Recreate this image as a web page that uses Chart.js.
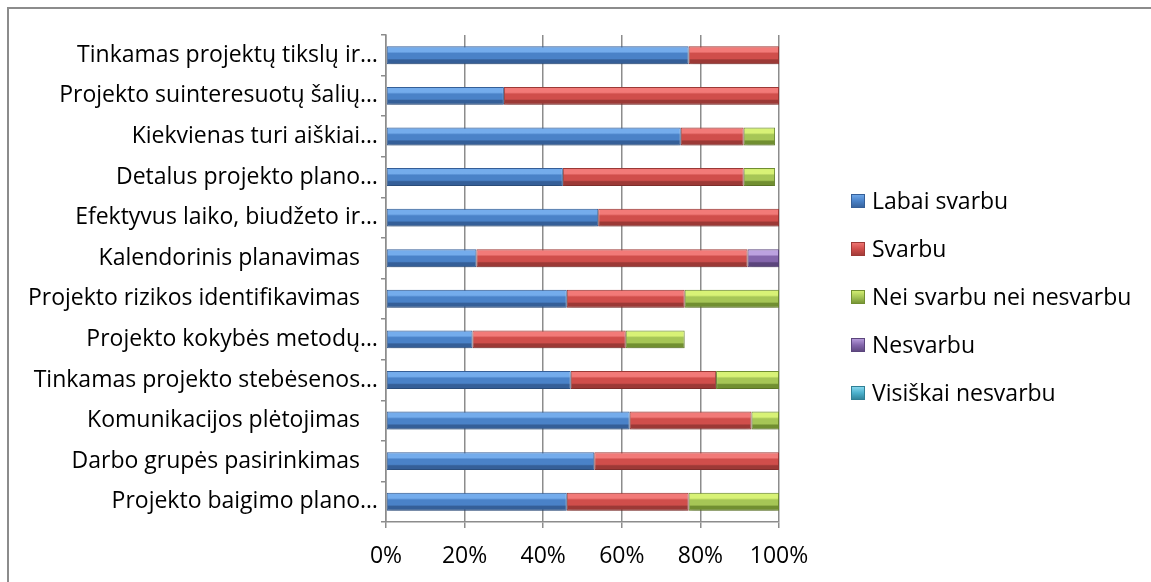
<!DOCTYPE html>
<html>
<head>
<meta charset="utf-8">
<title>Projekto sėkmės veiksniai</title>
<script src="https://cdn.jsdelivr.net/npm/chart.js@4"></script>
<style>
  html, body { margin: 0; padding: 0; background: #fff; overflow: hidden; }
  #frame { position: absolute; left: 7px; top: 7px; width: 1200px; height: 700px;
           border-left: 2px solid #8c8c8c; border-top: 2px solid #8c8c8c; }
  #wrap { position: absolute; left: 0; top: 0; width: 1151px; height: 582px; }
</style>
</head>
<body>
<div id="frame"></div>
<div id="wrap"><canvas id="my-chart"></canvas></div>
<script>
'use strict';

// *** DATA ***

let categories = [
  'Tinkamas projektų tikslų ir…',
  'Projekto suinteresuotų šalių…',
  'Kiekvienas turi aiškiai…',
  'Detalus projekto plano…',
  'Efektyvus laiko, biudžeto ir…',
  'Kalendorinis planavimas   ',
  'Projekto rizikos identifikavimas   ',
  'Projekto kokybės metodų…',
  'Tinkamas projekto stebėsenos…',
  'Komunikacijos plėtojimas   ',
  'Darbo grupės pasirinkimas   ',
  'Projekto baigimo plano…'
];

let seriesNames = ['Labai svarbu', 'Svarbu', 'Nei svarbu nei nesvarbu', 'Nesvarbu', 'Visiškai nesvarbu'];

let labaiSvarbu = [77, 30, 75, 45, 54, 23, 46, 22, 47, 62, 53, 46];
let svarbu      = [23, 70, 16, 46, 46, 69, 30, 39, 37, 31, 47, 31];
let neiSvarbu   = [0, 0, 8, 8, 0, 0, 24, 15, 16, 7, 0, 23];
let nesvarbu    = [0, 0, 0, 0, 0, 8, 0, 0, 0, 0, 0, 0];
let visiskai    = [0, 0, 0, 0, 0, 0, 0, 0, 0, 0, 0, 0];

let tickValues = [0, 20, 40, 60, 80, 100];

// *** STYLE ***

let FONT = "'Open Sans', sans-serif";
let FONT_SIZE = 23;
let BAR_PCT = 0.44;

// base, light, dark
let palette = [
  ['#4a82c8', '#74acec', '#355f98'],
  ['#d04e4b', '#f27a78', '#9c3936'],
  ['#a6c656', '#d8f276', '#718f31'],
  ['#8466ac', '#bca2e0', '#5b457c'],
  ['#4bb0cc', '#8edcf2', '#2f7f95']
];

function bevelFill(colors) {
  return function(context) {
    let chart = context.chart;
    let yScale = chart.scales.y;
    if (context.type !== 'data' || !chart.chartArea || !yScale) {
      return colors[0];
    }
    let yc = yScale.getPixelForValue(context.dataIndex);
    let half = (yScale.bottom - yScale.top) / categories.length * BAR_PCT / 2;
    let g = chart.ctx.createLinearGradient(0, yc - half, 0, yc + half);
    g.addColorStop(0, colors[2]);
    g.addColorStop(0.08, colors[1]);
    g.addColorStop(0.3, colors[1]);
    g.addColorStop(0.4, colors[0]);
    g.addColorStop(0.68, colors[0]);
    g.addColorStop(0.76, colors[2]);
    g.addColorStop(1, colors[2]);
    return g;
  };
}

// soft shadow under the bars
let barShadow = {
  id: 'barShadow',
  beforeDatasetsDraw(chart) {
    let ctx = chart.ctx;
    ctx.save();
    ctx.shadowColor = 'rgba(0, 0, 0, 0.22)';
    ctx.shadowBlur = 5;
    ctx.shadowOffsetY = 4;
  },
  afterDatasetsDraw(chart) {
    chart.ctx.restore();
  }
};

// legend drawn by hand so it can sit away from the plot
let sideLegend = {
  id: 'sideLegend',
  afterDraw(chart) {
    let ctx = chart.ctx;
    ctx.save();
    ctx.font = FONT_SIZE + 'px ' + FONT;
    ctx.textBaseline = 'middle';
    ctx.textAlign = 'left';
    for (let i = 0; i < seriesNames.length; i++) {
      let y = 201 + i * 48;
      let c = palette[i];
      let g = ctx.createLinearGradient(0, y - 7, 0, y + 7);
      g.addColorStop(0, c[1]);
      g.addColorStop(0.5, c[0]);
      g.addColorStop(1, c[2]);
      ctx.fillStyle = g;
      ctx.fillRect(851, y - 7, 14, 14);
      ctx.strokeStyle = c[2];
      ctx.lineWidth = 1;
      ctx.strokeRect(851.5, y - 6.5, 13, 13);
      ctx.fillStyle = '#000';
      ctx.fillText(seriesNames[i], 872, y + 1);
    }
    ctx.restore();
  }
};

let allSeries = [labaiSvarbu, svarbu, neiSvarbu, nesvarbu, visiskai];
let datasets = [];
for (let i = 0; i < allSeries.length; i++) {
  datasets.push({
    label: seriesNames[i],
    data: allSeries[i],
    backgroundColor: bevelFill(palette[i]),
    borderColor: palette[i][2],
    borderWidth: 1,
    borderSkipped: false,
    barPercentage: BAR_PCT,
    categoryPercentage: 1
  });
}

// *** CHART ***

let canvasElem = document.getElementById('my-chart');

new Chart(canvasElem, {
  type: 'bar',
  data: {
    labels: categories,
    datasets: datasets
  },
  options: {
    indexAxis: 'y',
    responsive: true,
    maintainAspectRatio: false,
    animation: false,
    layout: {
      padding: { left: 0, top: 35, right: 372, bottom: 0 }
    },
    plugins: {
      legend: { display: false },
      tooltip: { enabled: false }
    },
    scales: {
      x: {
        stacked: true,
        min: 0,
        max: 100,
        afterBuildTicks(scale) {
          scale.ticks = tickValues.map(v => ({ value: v }));
        },
        afterFit(scale) {
          scale.height = 60;
        },
        grid: {
          color: '#8c8c8c',
          lineWidth: 1.5,
          tickLength: 6
        },
        border: { color: '#8c8c8c', width: 1.5 },
        ticks: {
          color: '#000',
          padding: 15,
          font: { family: FONT, size: FONT_SIZE },
          callback: v => v + '%'
        }
      },
      y: {
        stacked: true,
        afterFit(scale) {
          scale.width = 386;
        },
        grid: {
          drawOnChartArea: false,
          color: '#8c8c8c',
          lineWidth: 1.5,
          tickLength: 5
        },
        border: { color: '#8c8c8c', width: 1.5 },
        ticks: {
          color: '#000',
          padding: 3,
          autoSkip: false,
          font: { family: FONT, size: FONT_SIZE }
        }
      }
    }
  },
  plugins: [barShadow, sideLegend]
});
</script>
</body>
</html>
